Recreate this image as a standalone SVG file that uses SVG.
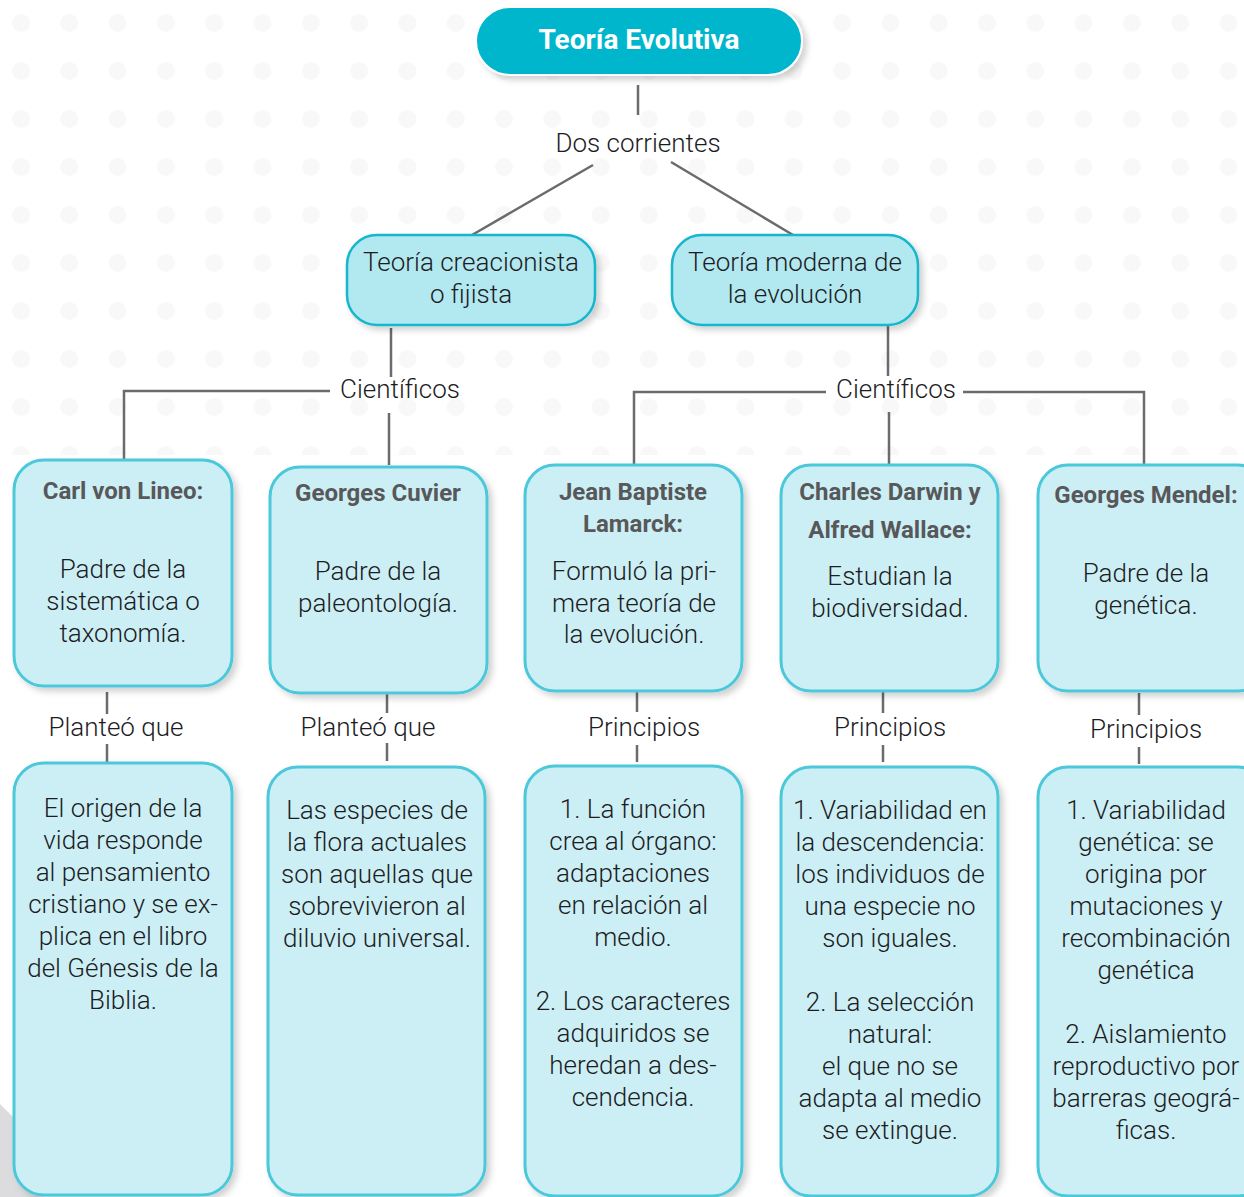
<svg xmlns="http://www.w3.org/2000/svg" width="1244" height="1197" viewBox="0 0 1244 1197">
<defs>
<style>
.bg{fill:#ffffff}
.dot{fill:#f8f8f8}
.line{stroke:#6b6b6d;stroke-width:2.5;fill:none}
.title-box{fill:#00b6cd;stroke:#ffffff;stroke-width:2}
.theory-box{fill:#b2e8f0;stroke:#13b6cc;stroke-width:2.5}
.box{fill:#cceff5;stroke:#4cc8da;stroke-width:3}
.t{font-family:Roboto,"Liberation Sans",sans-serif;font-size:26px;font-weight:300;fill:#1d1d1f;text-anchor:middle}
.h{font-family:Roboto,"Liberation Sans",sans-serif;font-size:24px;font-weight:bold;fill:#58585a;text-anchor:middle}
.title{font-family:Roboto,"Liberation Sans",sans-serif;font-size:28px;font-weight:bold;fill:#ffffff;text-anchor:middle}
</style>
<pattern id="dots" x="-3" y="-1" width="48.3" height="48" patternUnits="userSpaceOnUse">
<circle class="dot" cx="24" cy="24" r="9"/>
</pattern>
<filter id="sh" x="-10%" y="-10%" width="130%" height="130%">
<feDropShadow dx="4" dy="4" stdDeviation="3" flood-color="#000000" flood-opacity="0.18"/>
</filter>
</defs>

<g id="background">
<rect class="bg" x="0" y="0" width="1244" height="1197"/>
<rect x="0" y="0" width="1244" height="455" fill="url(#dots)"/>
<polygon points="0,1104 44,1148 44,1197 0,1197" fill="#dcdcde"/>
</g>

<g id="connectors">
<line class="line" x1="638" y1="85" x2="638" y2="115"/>
<line class="line" x1="593" y1="165" x2="472" y2="235"/>
<line class="line" x1="671" y1="162" x2="793" y2="235"/>
<line class="line" x1="391" y1="328" x2="391" y2="377"/>
<line class="line" x1="389" y1="413" x2="389" y2="465"/>
<polyline class="line" points="124,460 124,391 330,391"/>
<line class="line" x1="888" y1="325" x2="888" y2="376"/>
<line class="line" x1="889" y1="412" x2="889" y2="465"/>
<polyline class="line" points="634,465 634,392 826,392"/>
<polyline class="line" points="963,392 1144,392 1144,465"/>
<line class="line" x1="107" y1="692" x2="107" y2="714"/>
<line class="line" x1="107" y1="744" x2="107" y2="763"/>
<line class="line" x1="387" y1="693" x2="387" y2="713"/>
<line class="line" x1="387" y1="743" x2="387" y2="761"/>
<line class="line" x1="637" y1="691" x2="637" y2="712"/>
<line class="line" x1="637" y1="745" x2="637" y2="762"/>
<line class="line" x1="883" y1="691" x2="883" y2="713"/>
<line class="line" x1="883" y1="745" x2="883" y2="762"/>
<line class="line" x1="1139" y1="693" x2="1139" y2="715"/>
<line class="line" x1="1139" y1="747" x2="1139" y2="764"/>
<text class="t" x="638" y="152">Dos corrientes</text>
<text class="t" x="400" y="398">Científicos</text>
<text class="t" x="896" y="398">Científicos</text>
<text class="t" x="116" y="736">Planteó que</text>
<text class="t" x="368" y="736">Planteó que</text>
<text class="t" x="644" y="736">Principios</text>
<text class="t" x="890" y="736">Principios</text>
<text class="t" x="1146" y="738">Principios</text>
</g>

<g id="node-teoria-evolutiva">
<rect class="title-box" x="476" y="7" width="326" height="68" rx="34" filter="url(#sh)"/>
<text class="title" x="639" y="49">Teoría Evolutiva</text>
</g>

<g id="node-creacionista">
<rect class="theory-box" x="347" y="235" width="248" height="90" rx="30" filter="url(#sh)"/>
<text class="t"><tspan x="471" y="271">Teoría creacionista</tspan><tspan x="471" y="303">o fijista</tspan></text>
</g>

<g id="node-moderna">
<rect class="theory-box" x="672" y="235" width="246" height="90" rx="30" filter="url(#sh)"/>
<text class="t"><tspan x="795" y="271">Teoría moderna de</tspan><tspan x="795" y="303">la evolución</tspan></text>
</g>

<g id="node-lineo">
<rect class="box" x="14" y="460" width="218" height="226" rx="30" filter="url(#sh)"/>
<text class="h" x="123" y="499">Carl von Lineo:</text>
<text class="t"><tspan x="123" y="578">Padre de la</tspan><tspan x="123" y="610">sistemática o</tspan><tspan x="123" y="642">taxonomía.</tspan></text>
</g>

<g id="node-cuvier">
<rect class="box" x="270" y="467" width="217" height="226" rx="30" filter="url(#sh)"/>
<text class="h" x="378" y="501">Georges Cuvier</text>
<text class="t"><tspan x="378" y="580">Padre de la</tspan><tspan x="378" y="612">paleontología.</tspan></text>
</g>

<g id="node-lamarck">
<rect class="box" x="525" y="465" width="217" height="226" rx="30" filter="url(#sh)"/>
<text class="h"><tspan x="633" y="500">Jean Baptiste</tspan><tspan x="633" y="532">Lamarck:</tspan></text>
<text class="t"><tspan x="634" y="580">Formuló la pri-</tspan><tspan x="634" y="612">mera teoría de</tspan><tspan x="634" y="643">la evolución.</tspan></text>
</g>

<g id="node-darwin">
<rect class="box" x="781" y="465" width="217" height="226" rx="30" filter="url(#sh)"/>
<text class="h"><tspan x="890" y="500">Charles Darwin y</tspan><tspan x="890" y="538">Alfred Wallace:</tspan></text>
<text class="t"><tspan x="890" y="585">Estudian la</tspan><tspan x="890" y="617">biodiversidad.</tspan></text>
</g>

<g id="node-mendel">
<rect class="box" x="1038" y="465" width="230" height="226" rx="30" filter="url(#sh)"/>
<text class="h" x="1146" y="503">Georges Mendel:</text>
<text class="t"><tspan x="1146" y="582">Padre de la</tspan><tspan x="1146" y="614">genética.</tspan></text>
</g>

<g id="node-lineo-idea">
<rect class="box" x="14" y="763" width="218" height="432" rx="30" filter="url(#sh)"/>
<text class="t"><tspan x="123" y="817">El origen de la</tspan><tspan x="123" y="849">vida responde</tspan><tspan x="123" y="881">al pensamiento</tspan><tspan x="123" y="913">cristiano y se ex-</tspan><tspan x="123" y="945">plica en el libro</tspan><tspan x="123" y="977">del Génesis de la</tspan><tspan x="123" y="1009">Biblia.</tspan></text>
</g>

<g id="node-cuvier-idea">
<rect class="box" x="268" y="767" width="217" height="428" rx="30" filter="url(#sh)"/>
<text class="t"><tspan x="377" y="819">Las especies de</tspan><tspan x="377" y="851">la flora actuales</tspan><tspan x="377" y="883">son aquellas que</tspan><tspan x="377" y="915">sobrevivieron al</tspan><tspan x="377" y="947">diluvio universal.</tspan></text>
</g>

<g id="node-lamarck-principios">
<rect class="box" x="525" y="766" width="217" height="430" rx="30" filter="url(#sh)"/>
<text class="t"><tspan x="633" y="818">1. La función</tspan><tspan x="633" y="850">crea al órgano:</tspan><tspan x="633" y="882">adaptaciones</tspan><tspan x="633" y="914">en relación al</tspan><tspan x="633" y="946">medio.</tspan><tspan x="633" y="1010">2. Los caracteres</tspan><tspan x="633" y="1042">adquiridos se</tspan><tspan x="633" y="1074">heredan a des-</tspan><tspan x="633" y="1106">cendencia.</tspan></text>
</g>

<g id="node-darwin-principios">
<rect class="box" x="781" y="767" width="217" height="429" rx="30" filter="url(#sh)"/>
<text class="t"><tspan x="890" y="819">1. Variabilidad en</tspan><tspan x="890" y="851">la descendencia:</tspan><tspan x="890" y="883">los individuos de</tspan><tspan x="890" y="915">una especie no</tspan><tspan x="890" y="947">son iguales.</tspan><tspan x="890" y="1011">2. La selección</tspan><tspan x="890" y="1043">natural:</tspan><tspan x="890" y="1075">el que no se</tspan><tspan x="890" y="1107">adapta al medio</tspan><tspan x="890" y="1139">se extingue.</tspan></text>
</g>

<g id="node-mendel-principios">
<rect class="box" x="1038" y="767" width="230" height="429" rx="30" filter="url(#sh)"/>
<text class="t"><tspan x="1146" y="819">1. Variabilidad</tspan><tspan x="1146" y="851">genética: se</tspan><tspan x="1146" y="883">origina por</tspan><tspan x="1146" y="915">mutaciones y</tspan><tspan x="1146" y="947">recombinación</tspan><tspan x="1146" y="979">genética</tspan><tspan x="1146" y="1043">2. Aislamiento</tspan><tspan x="1146" y="1075">reproductivo por</tspan><tspan x="1146" y="1107">barreras geográ-</tspan><tspan x="1146" y="1139">ficas.</tspan></text>
</g>
</svg>
